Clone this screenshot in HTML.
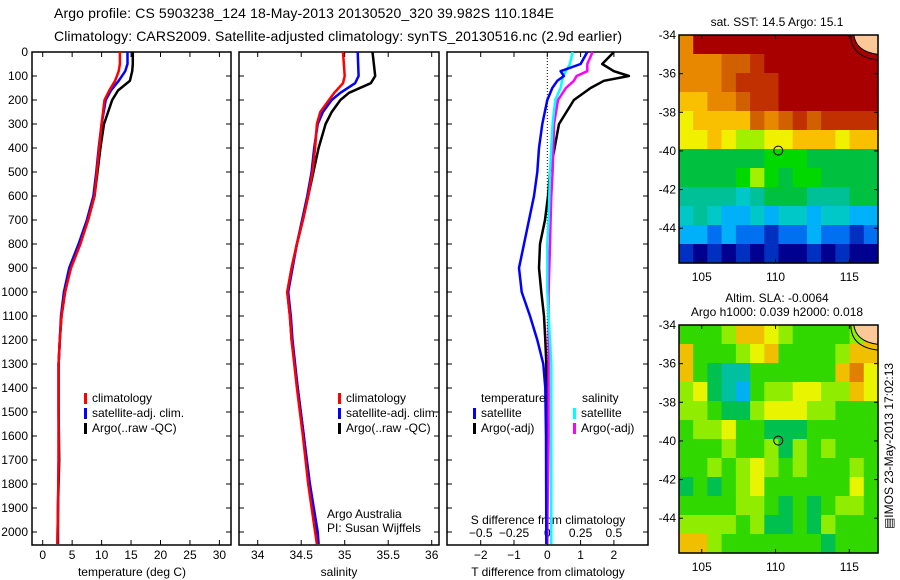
<!DOCTYPE html>
<html><head><meta charset="utf-8">
<style>
html,body{margin:0;padding:0;background:#fff;}
svg{display:block;font-family:"Liberation Sans",sans-serif;}
text{fill:#000;}
</style></head>
<body>
<svg id="c" width="900" height="580" viewBox="0 0 900 580" xmlns="http://www.w3.org/2000/svg">
<text x="54" y="18" font-size="14" textLength="500">Argo profile: CS 5903238_124 18-May-2013 20130520_320 39.982S 110.184E</text>
<text x="54" y="41" font-size="14" textLength="568">Climatology: CARS2009. Satellite-adjusted climatology: synTS_20130516.nc (2.9d earlier)</text>
<g id="g"></g>
</svg>
<script>
// ---------- data ----------
const tDepths=[0,50,80,120,160,200,300,400,500,600,700,800,900,1000,1100,1200,1300,1500,1700,1900,2050];
const tClim=[13.1,13.1,12.9,12.3,11.3,10.5,10.0,9.6,9.2,8.8,7.7,6.4,4.8,3.8,3.2,2.9,2.7,2.7,2.7,2.6,2.5];
const tSat=[14.4,14.4,14.0,12.9,11.6,10.7,10.0,9.5,9.1,8.6,7.5,6.1,4.5,3.6,3.1,2.9,2.7,2.7,2.7,2.6,2.5];
const tArgo=[15.3,15.3,15.2,14.8,12.8,11.8,10.4,9.8,9.3,8.8,7.7,6.3,4.7,3.8,3.2,2.9,2.7,2.7,2.8,2.6,2.6];
const sDepths=[0,100,130,170,200,250,300,400,500,600,700,800,900,1000,1100,1200,1400,1600,1800,2000,2050];
const sClim=[34.98,35.0,34.98,34.88,34.82,34.72,34.68,34.66,34.63,34.58,34.52,34.45,34.39,34.34,34.37,34.39,34.45,34.52,34.58,34.66,34.68];
const sSat=[35.15,35.16,35.12,34.95,34.85,34.75,34.69,34.65,34.62,34.57,34.51,34.45,34.4,34.35,34.38,34.4,34.46,34.53,34.6,34.69,34.7];
const sArgo=[35.32,35.35,35.3,35.05,34.95,34.85,34.78,34.7,34.64,34.58,34.52,34.45,34.39,34.34,34.37,34.39,34.46,34.53,34.59,34.67,34.68];
const dDepths=[0,50,80,100,120,150,200,300,400,500,600,700,800,900,1000,1100,1200,1300,1400,1600,2000,2050];
const dTSat=[1.2,1.0,0.4,0.5,0.3,0.15,0.0,-0.15,-0.25,-0.3,-0.4,-0.55,-0.7,-0.85,-0.77,-0.52,-0.3,-0.12,-0.06,-0.04,-0.03,-0.03];
const dTArgo=[2.0,1.65,2.0,2.45,1.7,1.3,0.8,0.35,0.22,0.08,0.02,-0.07,-0.22,-0.25,-0.18,-0.1,-0.06,-0.03,-0.02,-0.01,0.0,0.0];
const dSSat=[0.19,0.17,0.14,0.12,0.11,0.1,0.06,0.04,0.03,0.02,0.015,0.01,0.0,0.0,0.0,0.01,0.02,0.03,0.03,0.03,0.03,0.03];
const dSArgo=[0.34,0.3,0.3,0.22,0.2,0.14,0.08,0.05,0.045,0.04,0.03,0.025,0.02,0.015,0.01,0.01,0.01,0.01,0.01,0.01,0.0,0.0];
const depthTicks=[0,100,200,300,400,500,600,700,800,900,1000,1100,1200,1300,1400,1500,1600,1700,1800,1900,2000];
const tTicks=[0,5,10,15,20,25,30];
const sTicks=[34,34.5,35,35.5,36];
const dTTicks=[-2,-1,0,1,2];
const dSTicks=[-0.5,-0.25,0,0.25,0.5];
const latTicks=[-34,-36,-38,-40,-42,-44];
const lonTicks=[105,110,115];
const sstGrid=["beeeeeeeeeeeee","bbbccdeeeeeeee","bbbcdddeeeeeee","aabbcddeeeeeee","9aaaacbcdcdddd","99a98899aaa9aa","66666677766666","66667876776666","55554566655566","45433434434433","33232212232212","10101010010100"];
const slaGrid=["44457765444457","74445674444577","74322444444786","56321455665576","55433566655444","45564433344444","44454453545444","44545654544454","34345644444464","44445543434554","55554533435444","77544444443444"];
const argoLon=110.184, argoLat=-39.982;

// ---------- helpers ----------
const NS="http://www.w3.org/2000/svg";
const G=document.getElementById('g');
function mk(tag,attrs,parent){const e=document.createElementNS(NS,tag);for(const k in attrs)e.setAttribute(k,attrs[k]);(parent||G).appendChild(e);return e;}
function txt(x,y,s,anchor,size,parent){const e=mk('text',{x:x,y:y,'font-size':size||12,'text-anchor':anchor||'start'},parent);e.textContent=s;return e;}
const yD=d=>52+d*0.24;
const xT=t=>42.7+t*5.89;
const xS=s=>257.7+(s-34)*87;
const xD=t=>547.3+t*33.3;
const xDS=s=>xD(s*4);
const panels=[[32,231],[239,439],[447,648]];
const TOP=52,BOT=545;

// panel frames & depth ticks
panels.forEach((p,i)=>{
  const r=mk('rect',{x:p[0],y:TOP,width:p[1]-p[0],height:BOT-TOP,fill:'none',stroke:'#000','stroke-width':1.5});
  
  
  depthTicks.forEach(d=>{
    mk('line',{x1:p[0],x2:p[0]+5,y1:yD(d),y2:yD(d),stroke:'#000'});
    mk('line',{x1:p[1]-5,x2:p[1],y1:yD(d),y2:yD(d),stroke:'#000'});
  });
});
depthTicks.forEach(d=>{const t=txt(28,yD(d)+4,String(d),'end',12);
  
  });
function xticks(vals,fx,labels,ylab){
  vals.forEach((v,i)=>{const x=fx(v);
    mk('line',{x1:x,x2:x,y1:TOP,y2:TOP+5,stroke:'#000'});
    mk('line',{x1:x,x2:x,y1:BOT-5,y2:BOT,stroke:'#000'});
    const t=txt(x,ylab,labels[i],'middle',12);
    
    });
}
xticks(tTicks,xT,tTicks.map(String),559);
xticks(sTicks,xS,sTicks.map(String),559);
xticks(dTTicks,xD,dTTicks.map(v=>v<0?'\u2212'+(-v):String(v)),559);
dSTicks.forEach(v=>{const t=txt(xDS(v),537,v<0?'\u2212'+(-v):String(v),'middle',12);
  
  });
let t1=txt(132,576,'temperature (deg C)','middle',12);
let t2=txt(339,576,'salinity','middle',12);
let t3=txt(548,576,'T difference from climatology','middle',12);
let t4=txt(548,524,'S difference from climatology','middle',12);

// zero dotted line
const zl=mk('line',{x1:xD(0),x2:xD(0),y1:TOP,y2:BOT,stroke:'#000','stroke-dasharray':'1,2'});



function series(depths,vals,fx,color,name,w){
  let d='';
  vals.forEach((v,i)=>{d+=(i?'L':'M')+fx(v).toFixed(1)+','+yD(depths[i]).toFixed(1);});
  const p=mk('path',{d:d,fill:'none',stroke:color,'stroke-width':w||2.5,'stroke-linejoin':'round'});
  
  
}
series(tDepths,tArgo,xT,'#000','temp-argo-line');
series(tDepths,tSat,xT,'#0000ff','temp-satellite-line');
series(tDepths,tClim,xT,'#ff0000','temp-climatology-line');
series(sDepths,sArgo,xS,'#000','sal-argo-line');
series(sDepths,sSat,xS,'#0000ff','sal-satellite-line');
series(sDepths,sClim,xS,'#ff0000','sal-climatology-line');
series(dDepths,dTArgo,xD,'#000','tdiff-argo-line');
series(dDepths,dSArgo,xDS,'#ff00ff','sdiff-argo-line');
series(dDepths,dSSat,xDS,'#00ffff','sdiff-satellite-line');
series(dDepths,dTSat,xD,'#0000ff','tdiff-satellite-line');

function legendEntry(x,y,color,label,name){
  const b=mk('rect',{x:x,y:y-9,width:3,height:11,fill:color});
  
  
  const t=txt(x+8,y,label,'start',12);
  
  
}
[[84,'climatology'],[84,'satellite-adj. clim.'],[84,'Argo(..raw -QC)']].forEach((e,i)=>{});
legendEntry(84,402,'#ff0000','climatology','legend-temp-climatology');
legendEntry(84,417,'#0000ff','satellite-adj. clim.','legend-temp-satellite');
legendEntry(84,432,'#000','Argo(..raw -QC)','legend-temp-argo');
legendEntry(338,402,'#ff0000','climatology','legend-sal-climatology');
legendEntry(338,417,'#0000ff','satellite-adj. clim.','legend-sal-satellite');
legendEntry(338,432,'#000','Argo(..raw -QC)','legend-sal-argo');
let lt=txt(481,402,'temperature','start',12);
let ls=txt(582,402,'salinity','start',12);
legendEntry(473,417,'#0000ff','satellite','legend-tdiff-satellite');
legendEntry(473,432,'#000','Argo(-adj)','legend-tdiff-argo');
legendEntry(573,417,'#00ffff','satellite','legend-sdiff-satellite');
legendEntry(573,432,'#ff00ff','Argo(-adj)','legend-sdiff-argo');
let a1=txt(327,518,'Argo Australia','start',12);
let a2=txt(327,532,'PI: Susan Wijffels','start',12);

// ---------- maps ----------
const LON0=103.46,LON1=116.94,LAT0=-34,LAT1=-45.8;
const MX0=679,MX1=878;
const sstPal={'0':'#000090','1':'#0030c0','2':'#0070f0','3':'#00b0f8','4':'#00c8c8','5':'#00c098','6':'#00c040','7':'#00d800','8':'#a0f000','9':'#f0f000','a':'#f8c000','b':'#e88800','c':'#d06000','d':'#c03000','e':'#a80000'};
const slaPal={'0':'#0060e0','1':'#00b0f0','2':'#00c0a0','3':'#00c050','4':'#30d800','5':'#90ec00','6':'#e8f400','7':'#f0c000','8':'#e08000'};
const mx=lon=>MX0+(lon-LON0)/(LON1-LON0)*(MX1-MX0);
function drawMap(oy,grid,pal,name,title1,title2){
  const MY0=35+oy,MY1=263+oy;
  const my=lat=>MY0+(LAT0-lat)/(LAT0-LAT1)*(MY1-MY0);
  const g=mk('g',{});
  
  
  const rows=grid.length,cols=grid[0].length;
  const cw=(MX1-MX0)/cols,ch=(MY1-MY0)/rows;
  grid.forEach((row,r)=>{for(let c=0;c<cols;c++){
    const cell=mk('rect',{x:(MX0+c*cw).toFixed(1),y:(MY0+r*ch).toFixed(1),width:(cw+0.6).toFixed(1),height:(ch+0.6).toFixed(1),fill:pal[row[c]]},g);
    
    
  }});
  // land
  const land=mk('path',{d:`M${mx(115.3)},${MY0} C${mx(115.4)},${my(-34.5)} ${mx(115.8)},${my(-34.9)} ${mx(116.94)},${my(-35.0)} L${MX1},${MY0} Z`,fill:'#fcc898',stroke:'#000','stroke-width':1},g);
  
  
  mk('path',{d:`M${mx(115.1)},${MY0} C${mx(115.1)},${my(-34.8)} ${mx(115.8)},${my(-35.2)} ${mx(116.94)},${my(-35.3)}`,fill:'none',stroke:'#000','stroke-width':1},g);
  const fr=mk('rect',{x:MX0,y:MY0,width:MX1-MX0,height:MY1-MY0,fill:'none',stroke:'#000','stroke-width':1.5},g);
  
  
  latTicks.forEach(l=>{const y=my(l);
    mk('line',{x1:MX0,x2:MX0+4,y1:y,y2:y,stroke:'#000'},g);mk('line',{x1:MX1-4,x2:MX1,y1:y,y2:y,stroke:'#000'},g);
    const t=txt(676,y+4,'-'+(-l),'end',12,g);});
  lonTicks.forEach(l=>{const x=mx(l);
    mk('line',{x1:x,x2:x,y1:MY0,y2:MY0+4,stroke:'#000'},g);mk('line',{x1:x,x2:x,y1:MY1-4,y2:MY1,stroke:'#000'},g);
    const t=txt(x,MY1+18,String(l),'middle',12,g);});
  const ci=mk('circle',{cx:mx(argoLon),cy:my(argoLat),r:4.5,fill:'none',stroke:'#000','stroke-width':1},g);
  
  
  const tt=txt(777,oy+(title2?12:26),title1,'middle',12,g);
  if(title2){const t2=txt(777,oy+26,title2,'middle',12,g);}
}
drawMap(0,sstGrid,sstPal,'sst-map','sat. SST: 14.5 Argo: 15.1');
drawMap(290,slaGrid,slaPal,'sla-map','Altim. SLA: -0.0064','Argo h1000: 0.039 h2000: 0.018');
const it=txt(0,0,'\u25A4IMOS 23-May-2013 17:02:13','middle',12);
it.setAttribute('transform','translate(893,446) rotate(-90)');


</script>
</body></html>
